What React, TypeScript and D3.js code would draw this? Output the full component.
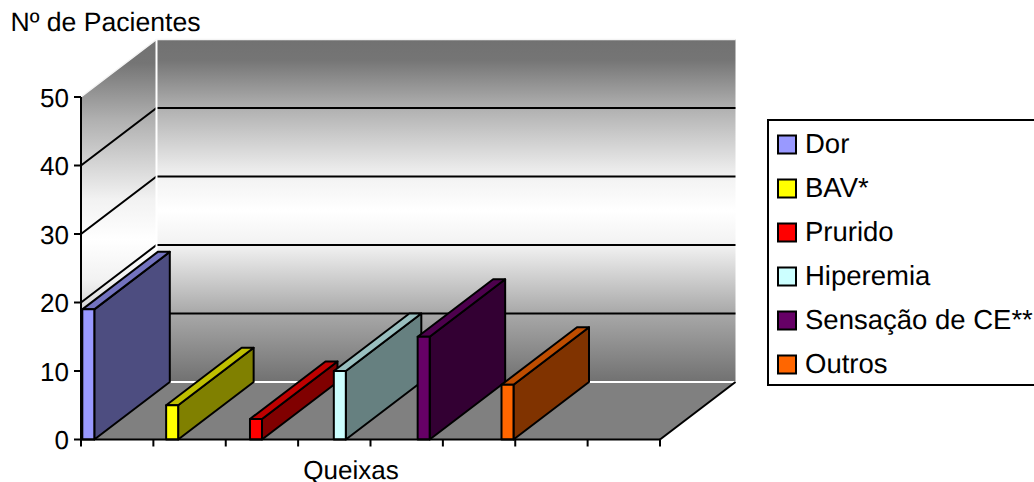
import React from "react";
import * as d3 from "d3";

// Chart content
const categories = ["Dor", "BAV*", "Prurido", "Hiperemia", "Sensação de CE**", "Outros"];
const patients = [19, 5, 3, 10, 15, 8];
const seriesColors = ["#9999ff", "#ffff00", "#ff0000", "#ccffff", "#660066", "#ff6600"];
const valueTicks = [0, 10, 20, 30, 40, 50];
const xTickSlots = d3.range(0, 9);

const WIDTH = 1034;
const HEIGHT = 482;
const FONT = "'Liberation Sans', Arial, sans-serif";

// Oblique projection: the depth of the box as a screen offset
const DEPTH_X = 75.5;
const DEPTH_Y = -57.5;
const BAR_W = 12;

const y = d3.scaleLinear().domain([0, 50]).range([439.5, 97]);
const xFloor = d3.scaleLinear().domain([0, 8]).range([81, 660]);
const xBar = d3.scalePoint<string>().domain(categories).range([82.3, 501.5]);
const legendRow = d3.scaleLinear().domain([0, 1]).range([0, 44]);

const poly = (pts: [number, number][]) => d3.line()(pts) + "Z";

const shade = (c: string, k: number) => {
  const r = d3.rgb(c);
  return d3.rgb(r.r * k, r.g * k, r.b * k).formatHex();
};

const x0 = xFloor(0);
const x1 = xFloor(8);
const yBase = y(0);
const yTop = y(50);

// Wall shading: dark at the top and bottom, white through the middle
const backStops = [
  { offset: "0%", color: "#717171" },
  { offset: "6%", color: "#757575" },
  { offset: "20%", color: "#b0b0b0" },
  { offset: "40%", color: "#f2f2f2" },
  { offset: "50%", color: "#ffffff" },
  { offset: "60%", color: "#f2f2f2" },
  { offset: "80%", color: "#a8a8a8" },
  { offset: "100%", color: "#717171" },
];

export default function App() {
  const stops = backStops.map((s) => <stop key={s.offset} offset={s.offset} stopColor={s.color} />);
  return (
    <svg
      width={WIDTH}
      height={HEIGHT}
      viewBox={`0 0 ${WIDTH} ${HEIGHT}`}
      style={{ position: "absolute", left: 0, top: 0, display: "block", background: "#fff" }}
      fontFamily={FONT}
      textRendering="geometricPrecision"
    >
      <defs>
        <linearGradient id="backWall" gradientUnits="userSpaceOnUse" x1={0} y1={yTop + DEPTH_Y} x2={0} y2={yBase + DEPTH_Y}>
          {stops}
        </linearGradient>
        <linearGradient id="sideWall" gradientUnits="userSpaceOnUse" x1={0} y1={yTop + DEPTH_Y} x2={0} y2={yBase}>
          {stops}
        </linearGradient>
      </defs>

      {/* Back wall, side wall and floor */}
      <rect x={x0 + DEPTH_X} y={yTop + DEPTH_Y} width={x1 - x0} height={yBase - yTop} fill="url(#backWall)" />
      <path
        d={poly([
          [x0, yTop],
          [x0 + DEPTH_X, yTop + DEPTH_Y],
          [x0 + DEPTH_X, yBase + DEPTH_Y],
          [x0, yBase],
        ])}
        fill="url(#sideWall)"
      />
      <path
        d={poly([
          [x0, yBase],
          [x0 + DEPTH_X, yBase + DEPTH_Y],
          [x1 + DEPTH_X, yBase + DEPTH_Y],
          [x1, yBase],
        ])}
        fill="#808080"
      />

      {/* Gridlines across both walls */}
      {valueTicks.slice(1, -1).map((t) => (
        <path
          key={t}
          d={d3.line()([
            [x0, y(t)],
            [x0 + DEPTH_X, y(t) + DEPTH_Y],
            [x1 + DEPTH_X, y(t) + DEPTH_Y],
          ])!}
          fill="none"
          stroke="#000"
          strokeWidth={2}
        />
      ))}

      {/* White edges of the box */}
      <path
        d={d3.line()([
          [x0, yTop],
          [x0 + DEPTH_X, yTop + DEPTH_Y],
          [x1 + DEPTH_X, yTop + DEPTH_Y],
        ])!}
        fill="none"
        stroke="#f4f4f4"
        strokeWidth={1.5}
      />
      <line x1={x0 + DEPTH_X} x2={x0 + DEPTH_X} y1={yTop + DEPTH_Y} y2={yBase + DEPTH_Y} stroke="#fff" strokeWidth={2} />
      <line x1={x0 + DEPTH_X} x2={x1 + DEPTH_X} y1={yBase + DEPTH_Y} y2={yBase + DEPTH_Y} stroke="#fff" strokeWidth={2} />

      {/* Floor's right edge */}
      <line x1={x1} y1={yBase} x2={x1 + DEPTH_X} y2={yBase + DEPTH_Y} stroke="#000" strokeWidth={2} />

      {/* Bars */}
      {categories.map((c, i) => {
        const left = xBar(c)!;
        const right = left + BAR_W;
        const top = y(patients[i]);
        const fill = seriesColors[i];
        const edge = { stroke: "#000", strokeWidth: 2, strokeLinejoin: "round" as const };
        return (
          <g key={c}>
            <path
              d={poly([
                [right, top],
                [right + DEPTH_X, top + DEPTH_Y],
                [right + DEPTH_X, yBase + DEPTH_Y],
                [right, yBase],
              ])}
              fill={shade(fill, 0.5)}
              {...edge}
            />
            <path
              d={poly([
                [left, top],
                [left + DEPTH_X, top + DEPTH_Y],
                [right + DEPTH_X, top + DEPTH_Y],
                [right, top],
              ])}
              fill={shade(fill, 0.75)}
              {...edge}
            />
            <rect x={left} y={top} width={BAR_W} height={yBase - top} fill={fill} {...edge} />
          </g>
        );
      })}

      {/* Axes */}
      <line x1={x0} x2={x0} y1={yTop} y2={yBase} stroke="#000" strokeWidth={2} />
      <line x1={x0} x2={x1} y1={yBase} y2={yBase} stroke="#000" strokeWidth={2} />
      {valueTicks.map((t) => (
        <g key={t}>
          <line x1={x0 - 7} x2={x0} y1={y(t)} y2={y(t)} stroke="#000" strokeWidth={2} />
          <text x={x0 - 12} y={y(t) + 9.5} fontSize={26} textAnchor="end" fill="#000">
            {t}
          </text>
        </g>
      ))}
      {xTickSlots.map((s) => (
        <line key={s} x1={xFloor(s)} x2={xFloor(s)} y1={yBase} y2={yBase + 7} stroke="#000" strokeWidth={2} />
      ))}

      {/* Axis titles */}
      <text x={10.5} y={31} fontSize={26.6} fill="#000">Nº de Pacientes</text>
      <text x={351} y={479} fontSize={26} textAnchor="middle" fill="#000">Queixas</text>

      {/* Legend */}
      <rect x={768} y={120} width={300} height={265} fill="#fff" stroke="#000" strokeWidth={2} />
      {categories.map((c, i) => (
        <g key={c} transform={`translate(0, ${legendRow(i)})`}>
          <rect x={778} y={135.5} width={18} height={18} fill={seriesColors[i]} stroke="#000" strokeWidth={2} />
          <text x={805} y={152.5} fontSize={27.5} fill="#000">{c}</text>
        </g>
      ))}
    </svg>
  );
}
